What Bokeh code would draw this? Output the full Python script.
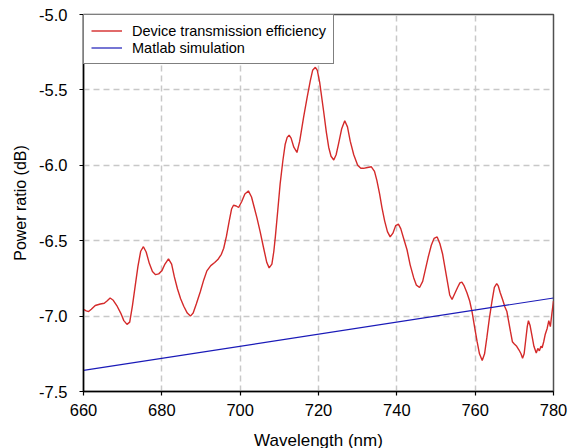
from bokeh.plotting import figure
from bokeh.models import Range1d, FixedTicker, Legend, LegendItem, NumeralTickFormatter
from bokeh.embed import file_html
from bokeh.resources import INLINE

# Device transmission efficiency
wavelength = [
    660.0, 660.7, 661.3, 662.0, 663.0, 664.3, 665.3, 666.0, 666.8, 667.6,
    668.5, 669.5, 670.3, 671.1, 671.8, 672.5, 673.2, 673.9, 674.6, 675.3,
    676.0, 676.8, 677.6, 678.4, 679.2, 680.0, 680.8, 681.7, 682.5, 683.2,
    684.0, 684.8, 685.6, 686.5, 687.3, 688.0, 688.8, 689.8, 690.7, 691.5,
    692.5, 693.5, 694.3, 695.2, 695.8, 696.5, 697.2, 697.8, 698.3, 699.0,
    699.6, 700.4, 701.2, 702.1, 702.9, 703.6, 704.3, 705.1, 706.0, 706.8,
    707.4, 708.1, 708.6, 709.0, 709.6, 710.2, 710.9, 711.5, 712.0, 712.5,
    713.0, 713.7, 714.5, 715.2, 716.2, 717.1, 717.9, 718.5, 719.2, 719.7,
    720.3, 721.3, 722.0, 722.6, 723.2, 723.9, 724.5, 725.1, 725.9, 726.7,
    727.4, 728.1, 729.0, 730.0, 730.8, 731.5, 732.5, 733.5, 734.3, 734.9,
    735.6, 736.2, 736.9, 737.6, 738.3, 739.0, 739.7, 740.4, 741.0, 741.8,
    742.6, 743.4, 744.3, 745.0, 745.8, 746.6, 747.3, 748.0, 748.8, 749.5,
    750.3, 751.0, 751.7, 752.3, 752.9, 753.5, 754.1, 754.8, 755.5, 756.1,
    756.6, 757.2, 757.9, 758.6, 759.2, 759.9, 760.5, 761.1, 761.8, 762.4,
    763.0, 763.6, 764.3, 764.9, 765.5, 765.9, 766.4, 767.0, 767.6, 768.1,
    769.0, 769.5, 770.0, 770.6, 771.2, 771.7, 772.1, 772.5, 772.9, 773.3,
    773.6, 774.0, 774.5, 775.0, 775.6, 776.0, 776.4, 776.8, 777.1, 777.5,
    777.9, 778.4, 778.8, 779.2, 779.6, 780.0,
]
device = [
    -6.955, -6.965, -6.970, -6.955, -6.930, -6.920, -6.915, -6.900, -6.880, -6.895,
    -6.930, -6.980, -7.030, -7.055, -7.040, -6.930, -6.800, -6.670, -6.570, -6.540,
    -6.575, -6.650, -6.705, -6.725, -6.720, -6.700, -6.655, -6.620, -6.655, -6.740,
    -6.820, -6.885, -6.935, -6.980, -7.000, -6.980, -6.920, -6.840, -6.760, -6.700,
    -6.665, -6.645, -6.625, -6.590, -6.550, -6.470, -6.370, -6.290, -6.265, -6.270,
    -6.280, -6.240, -6.190, -6.170, -6.210, -6.280, -6.350, -6.440, -6.550, -6.645,
    -6.680, -6.655, -6.570, -6.470, -6.300, -6.125, -5.970, -5.860, -5.815, -5.800,
    -5.820, -5.880, -5.915, -5.840, -5.680, -5.550, -5.440, -5.370, -5.350, -5.370,
    -5.450, -5.640, -5.780, -5.880, -5.940, -5.965, -5.930, -5.860, -5.760, -5.705,
    -5.745, -5.840, -5.930, -6.000, -6.020, -6.020, -6.015, -6.010, -6.040, -6.100,
    -6.190, -6.280, -6.370, -6.440, -6.475, -6.450, -6.400, -6.390, -6.420, -6.490,
    -6.560, -6.660, -6.745, -6.795, -6.810, -6.770, -6.690, -6.610, -6.530, -6.485,
    -6.475, -6.520, -6.590, -6.680, -6.770, -6.860, -6.890, -6.850, -6.810, -6.780,
    -6.775, -6.800, -6.845, -6.900, -6.970, -7.080, -7.170, -7.250, -7.295, -7.250,
    -7.140, -7.020, -6.900, -6.810, -6.785, -6.800, -6.845, -6.890, -6.940, -6.970,
    -7.100, -7.170, -7.185, -7.200, -7.225, -7.250, -7.280, -7.250, -7.160, -7.070,
    -7.030, -7.060, -7.130, -7.200, -7.245, -7.215, -7.230, -7.200, -7.210, -7.170,
    -7.120, -7.080, -7.030, -7.070, -6.980, -6.900,
]

# Matlab simulation
sim_wavelength = [660, 780]
simulation = [-7.36, -6.88]

x_ticks = [660, 680, 700, 720, 740, 760, 780]
y_ticks = [-7.5, -7.0, -6.5, -6.0, -5.5, -5.0]

FONT = "Liberation Sans"

p = figure(
    frame_width=470, frame_height=377,
    min_border_left=83, min_border_right=21, min_border_top=14, min_border_bottom=10,
    x_range=Range1d(660, 780), y_range=Range1d(-7.5, -5.0),
    output_backend="svg", toolbar_location=None,
    background_fill_color="white", border_fill_color="white",
)

p.outline_line_color = "#505050"
p.outline_line_width = 1.5

red = p.line(wavelength, device, line_color="#d42a2a", line_width=1.4)
blue = p.line(sim_wavelength, simulation, line_color="#1a1ab8", line_width=1.2)

for ax in (p.xaxis[0], p.yaxis[0]):
    ax.axis_line_color = "black"
    ax.axis_line_width = 1.5
    ax.major_tick_line_color = "black"
    ax.major_tick_line_width = 1.2
    ax.major_tick_in = 0
    ax.major_tick_out = 4
    ax.minor_tick_line_color = None
    ax.major_label_text_font = FONT
    ax.major_label_text_font_size = "16.5px"
    ax.major_label_text_color = "black"
    ax.axis_label_text_font = FONT
    ax.axis_label_text_font_style = "normal"
    ax.axis_label_text_color = "black"

p.xaxis[0].major_label_standoff = 8
p.yaxis[0].major_label_standoff = 12
p.xaxis[0].ticker = FixedTicker(ticks=x_ticks)
p.yaxis[0].ticker = FixedTicker(ticks=y_ticks)
p.yaxis[0].formatter = NumeralTickFormatter(format="0.0")
p.xaxis[0].axis_label = "Wavelength (nm)"
p.yaxis[0].axis_label = "Power ratio (dB)"
p.xaxis[0].axis_label_text_font_size = "17px"
p.yaxis[0].axis_label_text_font_size = "16px"
p.xaxis[0].axis_label_standoff = 12
p.yaxis[0].axis_label_standoff = 7

for g in (p.xgrid[0], p.ygrid[0]):
    g.grid_line_color = "#c8c8c8"
    g.grid_line_width = 1.5
    g.grid_line_dash = "6 4"

legend = Legend(
    items=[
        LegendItem(label="Device transmission efficiency", renderers=[red]),
        LegendItem(label="Matlab simulation", renderers=[blue]),
    ],
    location="top_left",
    margin=0,
    padding=7,
    spacing=0,
    glyph_width=31,
    glyph_height=17,
    label_height=17,
    label_standoff=10,
    label_text_font=FONT,
    label_text_font_size="14.5px",
    label_text_color="black",
    border_line_color="black",
    border_line_width=1.5,
    background_fill_color="white",
    background_fill_alpha=1.0,
)
p.add_layout(legend)

open("out.html", "w").write(file_html(p, INLINE))
